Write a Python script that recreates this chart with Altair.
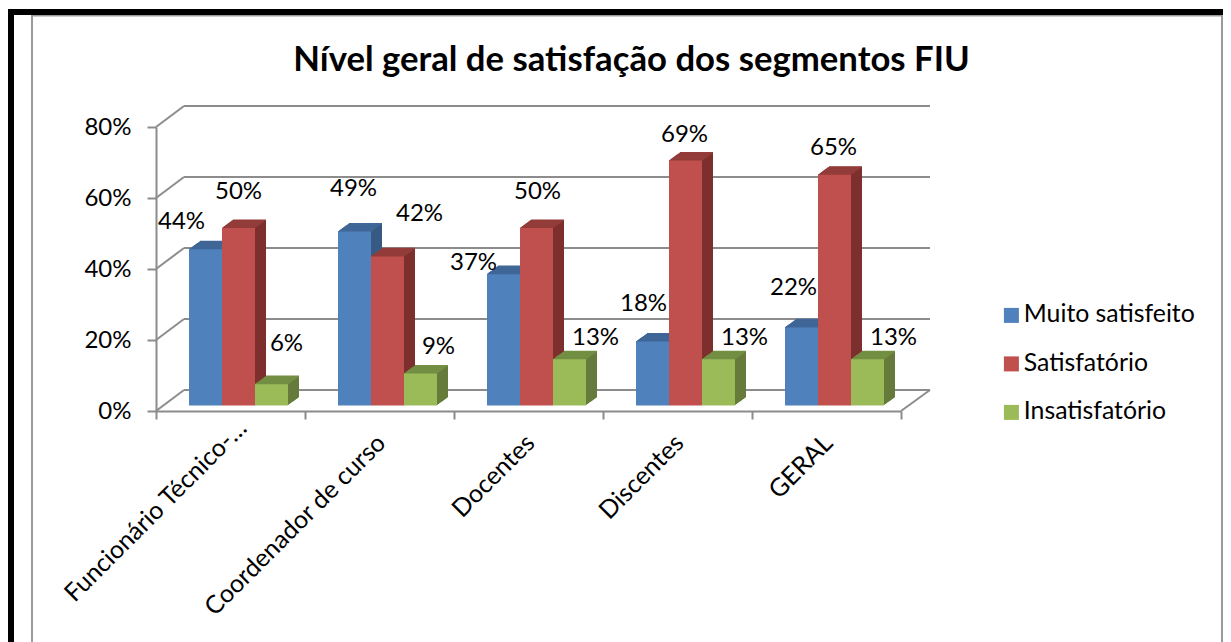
import altair as alt
import pandas as pd

categories = ["Funcionário Técnico-…", "Coordenador de curso", "Docentes", "Discentes", "GERAL"]
series = ["Muito satisfeito", "Satisfatório", "Insatisfatório"]
muito = [0.44, 0.49, 0.37, 0.18, 0.22]
satisf = [0.50, 0.42, 0.50, 0.69, 0.65]
insat = [0.06, 0.09, 0.13, 0.13, 0.13]
ticks = [0, 0.2, 0.4, 0.6, 0.8]
title = "Nível geral de satisfação dos segmentos FIU"

values = {"Muito satisfeito": muito, "Satisfatório": satisf, "Insatisfatório": insat}
front = {"Muito satisfeito": "#4F81BD", "Satisfatório": "#C0504D", "Insatisfatório": "#9BBB59"}
side = {"Muito satisfeito": "#375A85", "Satisfatório": "#7D2F2D", "Insatisfatório": "#667B3B"}
top = {"Muito satisfeito": "#3F6797", "Satisfatório": "#933D3A", "Insatisfatório": "#738F43"}

# label nudges relative to the top-centre of each bar, as in the reference
nudge = {
    "Muito satisfeito": [(-24, -27), (-1, -43), (-30, -11), (-9, -38), (-8, -39)],
    "Satisfatório": [(0, -36), (32, -42), (1, -36), (-1, -26), (-1, -27)],
    "Insatisfatório": [(15, -40), (18, -27), (26, -21), (26, -21), (26, -21)],
}

FONT = "Lato"
GRAY = "#8C8C8C"
W, H = 745, 284
PAD = {"left": 148, "top": 119, "right": 322, "bottom": 231}
BX, BY = 8, -5.5       # bars sit slightly inside the 3-D floor
DEPTH_X, DEPTH_Y = 11, 8
GAP, BAR = 25, 33

rows = []
for s in series:
    for c, v in zip(categories, values[s]):
        rows.append({"cat": c, "serie": s, "v": v, "base": 0.0,
                     "label": f"{round(v * 100)}%"})
df = pd.DataFrame(rows)
tick_df = pd.DataFrame({"t": ticks})

xs = alt.Scale(domain=categories, paddingInner=0, paddingOuter=0)
ys = alt.Scale(domain=[0, 0.8], nice=False, zero=True)

first = f"datum.value == '{categories[0]}'"
x_axis = alt.Axis(tickBand="extent", labelAngle=-45, labelAlign="right",
                  labelBaseline="top",
                  labelPadding={"condition": {"test": first, "value": -4}, "value": 11},
                  labelOffset={"condition": {"test": first, "value": 3}, "value": -7},
                  labelFontSize=25,
                  labelFont=FONT, labelColor="#000000", domainColor=GRAY,
                  domainWidth=2, tickColor=GRAY, tickWidth=2, tickSize=8,
                  grid=False, labelOverlap=False, labelLimit=400, title=None)
y_axis = alt.Axis(values=ticks, format=".0%", labelFontSize=24, labelFont=FONT,
                  labelColor="#000000", domainColor=GRAY, domainWidth=2,
                  tickColor=GRAY, tickWidth=2, tickSize=9, labelPadding=16,
                  grid=False, title=None)


def xo(shift):
    return alt.XOffset("serie:N", sort=series,
                       scale=alt.Scale(domain=series, paddingInner=0, paddingOuter=0,
                                       range=[GAP + shift, GAP + 3 * BAR + shift]))


xo_text = alt.XOffset("serie:N", sort=series,
                      scale=alt.Scale(type="point", domain=series, padding=0,
                                      range=[GAP + BAR / 2, GAP + 2.5 * BAR]))

X = alt.X("cat:N", sort=categories, scale=xs, axis=x_axis)
Y = alt.Y("v:Q", scale=ys, axis=y_axis, stack=None)
Y2 = alt.Y2("base:Q")
YT = alt.Y("t:Q", scale=ys, axis=y_axis)

layers = []

# frame of the original page
blank = {"values": [{}]}


def frame(x, x2, y, y2, color, w):
    return alt.Chart(alt.Data(**blank)).mark_rule(color=color, strokeWidth=w).encode(
        x=alt.value(x), x2=alt.value(x2), y=alt.value(y), y2=alt.value(y2))


layers += [
    frame(-124, -124, -112, 515, "#9A9A9A", 2),
    frame(1066, 1066, -112, 515, "#9A9A9A", 2),
    frame(-124, 1066, -111.5, -111.5, "#9A9A9A", 2),
    frame(-145, -145, -118, 515, "#000000", 6),
    frame(-148, 1067, -115, -115, "#000000", 6),
]

# 3-D walls: back grid lines and their diagonals
layers.append(
    alt.Chart(tick_df).mark_rule(color=GRAY, strokeWidth=2, yOffset=-21).encode(
        y=YT, x=alt.value(28), x2=alt.value(774))
)
layers.append(
    alt.Chart(tick_df).mark_rule(color=GRAY, strokeWidth=2, yOffset=0, y2Offset=-21).encode(
        y=YT, y2=alt.Y2("t:Q"), x=alt.value(0), x2=alt.value(28))
)
layers.append(
    alt.Chart(tick_df[tick_df.t == 0]).mark_rule(color=GRAY, strokeWidth=2, yOffset=0, y2Offset=-21).encode(
        y=YT, y2=alt.Y2("t:Q"), x=alt.value(745), x2=alt.value(774))
)

# bars, drawn series by series so nearer faces hide farther ones
color = alt.Color("serie:N", sort=series,
                  scale=alt.Scale(domain=series, range=[front[s] for s in series]),
                  legend=alt.Legend(orient="none", legendX=843, legendY=176, title=None,
                                    symbolType="square", symbolSize=225, symbolStrokeWidth=0,
                                    labelFont=FONT, labelFontSize=24.8, labelColor="#000000",
                                    rowPadding=22.5, labelOffset=0, labelLimit=300))
for s in series:
    d = df[df.serie == s]
    for i in range(1, DEPTH_X + 1):
        dy = BY - i * DEPTH_Y / DEPTH_X
        layers.append(alt.Chart(d).mark_bar(color=side[s], yOffset=dy, y2Offset=dy)
                      .encode(x=X, y=Y, y2=Y2, xOffset=xo(BX + i)))
    for i in range(0, DEPTH_X + 1):
        dy = BY - i * DEPTH_Y / DEPTH_X
        layers.append(alt.Chart(d).mark_bar(color=top[s], stroke=top[s], strokeWidth=1.2,
                                            yOffset=dy, y2Offset=dy)
                      .transform_calculate(vv="datum.v")
                      .encode(x=X, y=Y, y2=alt.Y2("vv:Q"), xOffset=xo(BX + i)))
    layers.append(alt.Chart(d).mark_bar(yOffset=BY, y2Offset=BY)
                  .encode(x=X, y=Y, y2=Y2, xOffset=xo(BX), color=color))

# value labels
for s in series:
    d = df[df.serie == s]
    for c, (nx, ny) in zip(categories, nudge[s]):
        layers.append(alt.Chart(d[d.cat == c]).mark_text(
            font=FONT, fontSize=24, color="#000000", baseline="middle", align="center",
            dx=BX + nx, dy=BY + ny).encode(x=X, y=Y, xOffset=xo_text, text="label:N"))

chart = alt.layer(*layers).resolve_scale(xOffset="independent").properties(
    width=W, height=H, padding=PAD,
    autosize=alt.AutoSizeParams(type="none", contains="content"),
    title=alt.TitleParams(title, anchor="middle", dx=103, offset=-73, font=FONT,
                          fontSize=34.7, fontWeight="bold", color="#000000"),
).configure_view(stroke=None)

chart.save("out.html", embed_options={"renderer": "svg", "actions": False})
